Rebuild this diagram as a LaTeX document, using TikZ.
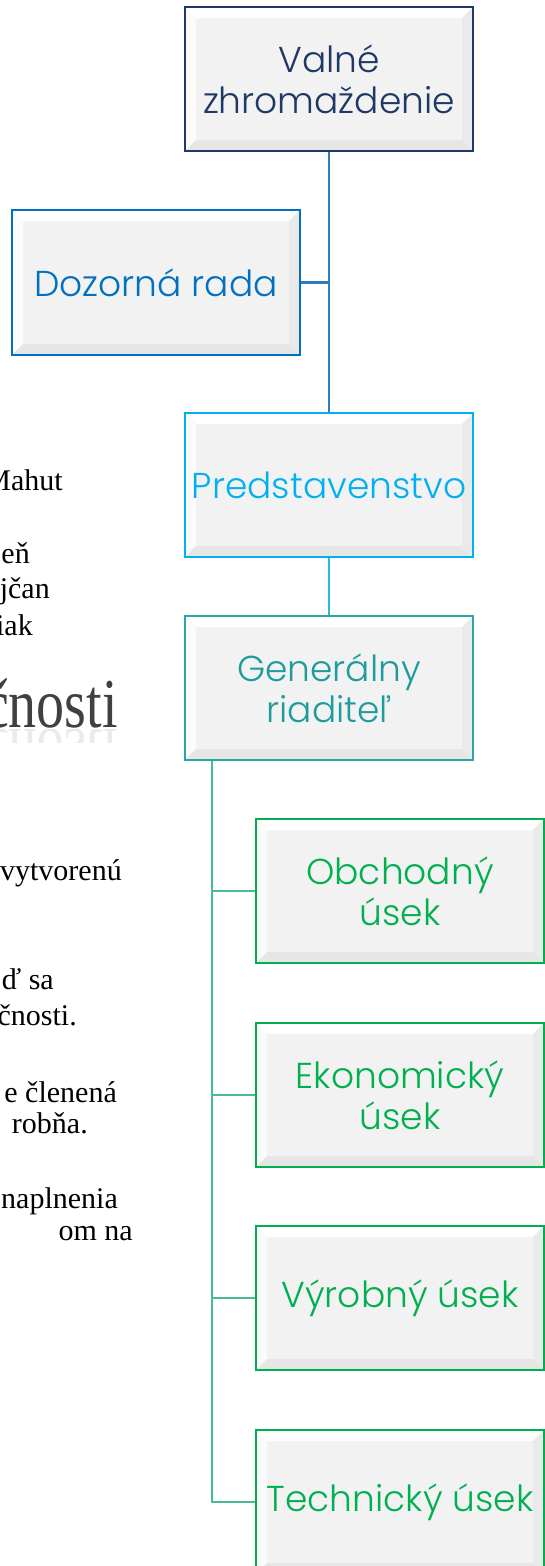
\documentclass[tikz,border=0pt]{standalone}
\usepackage{fontspec}
\IfFontExistsTF{Poppins Light}{\setmainfont{Poppins Light}}{\setmainfont{Poppins}}
\newfontfamily\docserif{Liberation Serif}
\usetikzlibrary{calc}
\definecolor{navyc}{HTML}{1F3864}
\definecolor{bluec}{HTML}{0070C0}
\definecolor{cyanc}{HTML}{00B0F0}
\definecolor{tealc}{HTML}{2EA5A5}
\definecolor{tealtext}{HTML}{1E9C9C}
\definecolor{greenc}{HTML}{00B050}
\definecolor{lineTop}{HTML}{2E7BC0}
\definecolor{lineMid}{HTML}{22BED6}
\definecolor{lineGreen}{HTML}{46BD8F}
\definecolor{boxgray}{HTML}{F2F2F2}
\definecolor{bevL}{HTML}{FBFBFB}
\definecolor{bevR}{HTML}{EAEAEA}
\definecolor{bevB}{HTML}{E6E6E6}
\definecolor{titlegray}{HTML}{404040}
\newcommand\boxfont{\fontsize{36}{41}\selectfont}
\newcommand\docfont{\docserif\fontsize{30}{35}\selectfont}
\def\bv{11pt}
\tikzset{
  bevel/.style={path picture={
    \path (path picture bounding box.north west) coordinate (pNW)
          (path picture bounding box.north east) coordinate (pNE)
          (path picture bounding box.south west) coordinate (pSW)
          (path picture bounding box.south east) coordinate (pSE);
    \fill[white] (pNW) -- (pNE) -- ([shift={(-\bv,-\bv)}]pNE) -- ([shift={(\bv,-\bv)}]pNW) -- cycle;
    \fill[bevL] (pNW) -- ([shift={(\bv,-\bv)}]pNW) -- ([shift={(\bv,\bv)}]pSW) -- (pSW) -- cycle;
    \fill[bevR] (pNE) -- (pSE) -- ([shift={(-\bv,\bv)}]pSE) -- ([shift={(-\bv,-\bv)}]pNE) -- cycle;
    \fill[bevB] (pSW) -- ([shift={(\bv,\bv)}]pSW) -- ([shift={(-\bv,\bv)}]pSE) -- (pSE) -- cycle;
  }},
  orgbox/.style={draw=#1, line width=2.4pt, fill=boxgray, bevel,
    minimum width=288pt, minimum height=144pt, inner sep=0pt,
    align=center, font=\boxfont, text=#1},
  conn/.style={line width=2.6pt, draw=#1},
  doctext/.style={anchor=base east, inner sep=0pt, font=\docfont, text=black}
}
\begin{document}
\begin{tikzpicture}[x=1pt,y=-1pt]
\useasboundingbox (0,0) rectangle (545,1566);
\clip (0,0) rectangle (545,1566);
\fill[white] (0,0) rectangle (545,1566);

% background document fragments
\node[doctext] (t1) at (63,490) {Mahut};
\node[doctext] (t2) at (30,563) {eň};
\node[doctext] (t3) at (50,598) {jčan};
\node[doctext] (t4) at (33,635) {iak};
\node[anchor=base east, inner sep=0pt, text=titlegray, font=\docserif\fontsize{70}{80}\selectfont, xscale=0.8, transform shape] (big) at (118,727) {čnosti};
\begin{scope}
\clip (0,729) rectangle (140,742);
\node[anchor=base east, inner sep=0pt, text=black!8, font=\docserif\fontsize{70}{80}\selectfont, xscale=0.8, yscale=-1, transform shape] (bigr) at (118,729) {čnosti};
\end{scope}
\node[doctext] (t5) at (122,880) {vytvorenú};
\node[doctext] (t6) at (54,989) {ď sa};
\node[doctext] (t7) at (77,1025) {čnosti.};
\node[doctext] (t8) at (117,1102) {e členená};
\node[doctext] (t9) at (88,1133) {robňa.};
\node[doctext] (t10) at (118,1208) {naplnenia};
\node[doctext] (t11) at (133,1240) {om na};

% boxes
\node[orgbox=navyc] (VZ) at (329,79) {Valné\\zhromaždenie};
\node[orgbox=bluec, minimum height=145pt] (DR) at (156,282.5) {Dozorná rada};
\node[orgbox=cyanc] (PR) at (329,485) {Predstavenstvo};
\node[orgbox=tealc, text=tealtext] (GR) at (329,688) {Generálny\\riaditeľ};
\node[orgbox=greenc] (OU) at (400,891) {Obchodný\\úsek};
\node[orgbox=greenc] (EU) at (400,1095) {Ekonomický\\úsek};
\node[orgbox=greenc] (VU) at (400,1298) {Výrobný úsek};
\node[orgbox=greenc] (TU) at (400,1502) {Technický úsek};

% connectors
\draw[conn=lineTop] (VZ.south) -- (PR.north);
\draw[conn=lineTop] (DR.east) -- (DR.east -| VZ.south);
\draw[conn=lineMid] (PR.south) -- (GR.north);
\coordinate (trunk) at ([xshift=28pt]GR.south west);
\draw[conn=lineGreen] (trunk) |- (TU.west);
\foreach \n in {OU,EU,VU} \draw[conn=lineGreen] (trunk |- \n.west) -- (\n.west);
\end{tikzpicture}
\end{document}
